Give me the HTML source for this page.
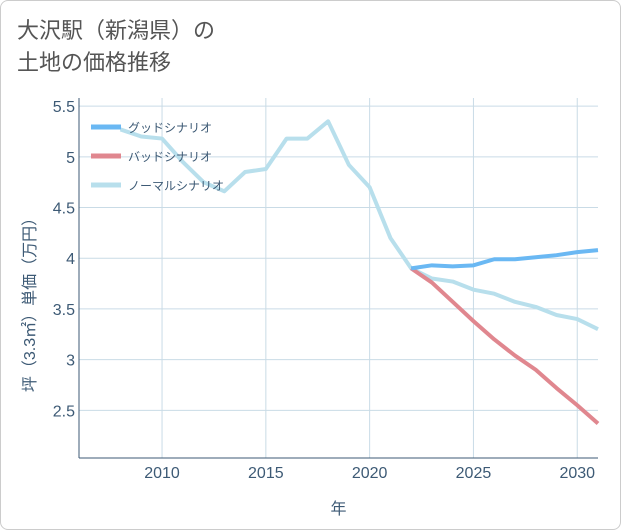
<!DOCTYPE html>
<html><head><meta charset="utf-8"><style>
body{margin:0;background:#fff;font-family:"Liberation Sans","Noto Sans CJK JP",sans-serif;}
#wrap{position:relative;width:619px;height:528px;border:1px solid #ccc;border-radius:8px;overflow:hidden;background:#fff}
#title{position:absolute;left:16px;top:14px;font-size:22px;line-height:32px;color:#555;}
svg{position:absolute;left:0;top:0}
</style></head><body>
<div id="wrap">
<div id="title">大沢駅（新潟県）の<br>土地の価格推移</div>
<svg id="chart" width="621" height="530"></svg>
</div>
<script>
const normalYears=[2008,2009,2010,2011,2012,2013,2014,2015,2016,2017,2018,2019,2020,2021,2022,2023,2024,2025,2026,2027,2028,2029,2030,2031];
const normalVals=[5.27,5.2,5.18,4.95,4.75,4.66,4.85,4.88,5.18,5.18,5.35,4.92,4.7,4.2,3.9,3.8,3.77,3.69,3.65,3.57,3.52,3.44,3.4,3.3];
const futureYears=[2022,2023,2024,2025,2026,2027,2028,2029,2030,2031];
const goodVals=[3.9,3.93,3.92,3.93,3.99,3.99,4.01,4.03,4.06,4.08];
const badVals=[3.9,3.76,3.57,3.38,3.2,3.04,2.9,2.72,2.55,2.37];
const xTicks=[2010,2015,2020,2025,2030];
const yTicks=[2.5,3,3.5,4,4.5,5,5.5];
const L=78,R=597,T=97,B=457,x0=2006,x1=2031,y0=2.03,y1=5.58;
const X=v=>L+(v-x0)/(x1-x0)*(R-L);
const Y=v=>B-(v-y0)/(y1-y0)*(B-T);
const svg=document.getElementById('chart');
const NS='http://www.w3.org/2000/svg';
function mk(t,a,p){const e=document.createElementNS(NS,t);for(const k in a)e.setAttribute(k,a[k]);(p||svg).appendChild(e);return e;}
for(const t of xTicks){
 const g=mk('line',{x1:X(t),x2:X(t),y1:T,y2:B,stroke:'#c9dbe6','stroke-width':1});
 
 
 const l=mk('text',{x:X(t),y:B+20,'text-anchor':'middle','font-size':16,fill:'#3d5a75'});
 l.textContent=t;
 
 
}
for(const t of yTicks){
 const g=mk('line',{x1:L,x2:R,y1:Y(t),y2:Y(t),stroke:'#c9dbe6','stroke-width':1});
 
 
 const l=mk('text',{x:L-4,y:Y(t)+6,'text-anchor':'end','font-size':16,fill:'#3d5a75'});
 l.textContent=t;
 
 
}
const ax=mk('line',{x1:L,x2:R,y1:B,y2:B,stroke:'#3d5a75','stroke-width':1});


const ay=mk('line',{x1:L,x2:L,y1:T,y2:B,stroke:'#3d5a75','stroke-width':1});


const xt=mk('text',{x:(L+R)/2,y:513,'text-anchor':'middle','font-size':16,fill:'#3d5a75'});
xt.textContent='年';


const yt=mk('text',{x:0,y:0,'text-anchor':'middle','font-size':16,fill:'#3d5a75',transform:'translate(34,300) rotate(-90)'});
yt.textContent='坪（3.3㎡）単価（万円）';


function line(xs,ys,color,name){
 const p=mk('polyline',{points:xs.map((x,i)=>X(x)+','+Y(ys[i])).join(' '),fill:'none',stroke:color,'stroke-width':4,'stroke-linejoin':'round'});
 
 
}
line(normalYears,normalVals,'#b8dfec','normal-scenario-line');
line(futureYears,badVals,'#e0878f','bad-scenario-line');
line(futureYears,goodVals,'#6ab8f3','good-scenario-line');
const leg=[['グッドシナリオ','#6ab8f3'],['バッドシナリオ','#e0878f'],['ノーマルシナリオ','#b8dfec']];
leg.forEach((d,i)=>{
 const y=126+i*29;
 const s=mk('line',{x1:90,x2:120,y1:y,y2:y,stroke:d[1],'stroke-width':5});
 
 
 const t=mk('text',{x:127,y:y+5,'font-size':12,fill:'#3d5a75'});
 t.textContent=d[0];
 
 
});
</script>
</body></html>
